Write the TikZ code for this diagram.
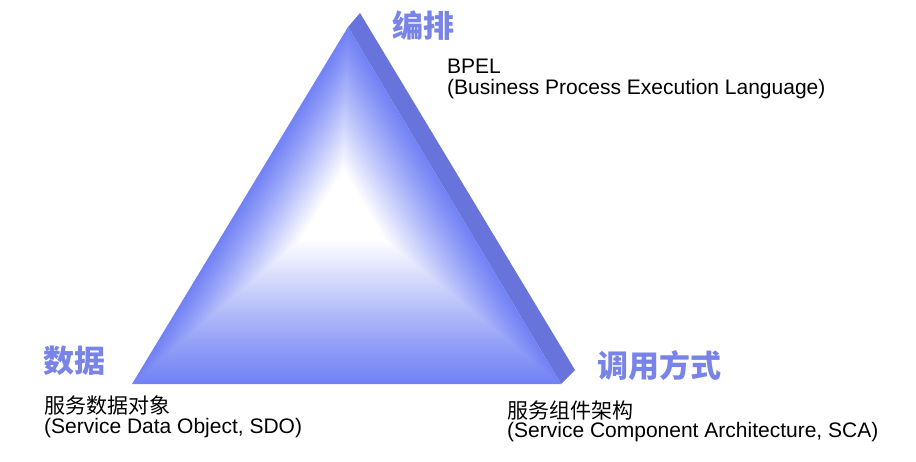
\documentclass[tikz,border=0pt]{standalone}
\usepackage{fontspec}
\usetikzlibrary{calc}
\setmainfont{Liberation Sans}
\newfontfamily\cjk{Noto Sans CJK SC}
\definecolor{tb}{RGB}{114,130,245}
\definecolor{side}{RGB}{104,116,220}
\definecolor{headc}{RGB}{120,132,232}
\tikzset{
  head/.style={font=\cjk\bfseries\fontsize{31}{31}\selectfont, text=headc, inner sep=0pt},
  cnsub/.style={font=\cjk\fontsize{21}{21}\selectfont, inner sep=0pt, anchor=west},
  ensub/.style={font=\fontsize{21}{21}\selectfont, inner sep=0pt, anchor=base west},
}
\begin{document}
\begin{tikzpicture}[x=1pt,y=-1pt]
\useasboundingbox (0,0) rectangle (916,461);
\fill[white] (0,0) rectangle (916,461);
% corners
\coordinate (A) at (348,27);
\coordinate (B) at (132,384);
\coordinate (C) at (561,384);
\coordinate (P) at (342,205);
\coordinate (A2) at (360,13);
\coordinate (C2) at (575,370);
% side face
\fill[side] (A) -- (A2) -- (C2) -- (C) -- cycle;
% front face: path gradient from edges to P
\foreach \i in {0,...,100}{
  \pgfmathsetmacro\s{1-0.8*\i/100}
  \pgfmathsetmacro\p{100*(\i/100)^1.1}
  \fill[white!\p!tb] ($(P)!\s!(A)$) -- ($(P)!\s!(B)$) -- ($(P)!\s!(C)$) -- cycle;
}
% headings
\node[head] (orch) at (423,26) {编排};
\node[head] (data) at (74,361) {数据};
\node[head] (call) at (659,366) {调用方式};
% sub labels
\node[ensub] (bpel) at (447,73) {BPEL};
\node[ensub] (bpelfull) at (447,94) {(Business Process Execution Language)};
\node[cnsub] (sdocn) at (44,406) {服务数据对象};
\node[ensub] (sdoen) at (44,433) {(Service Data Object, SDO)};
\node[cnsub] (scacn) at (507,411) {服务组件架构};
\node[ensub] (scaen) at (507,437) {(Service Component Architecture, SCA)};
\end{tikzpicture}
\end{document}
